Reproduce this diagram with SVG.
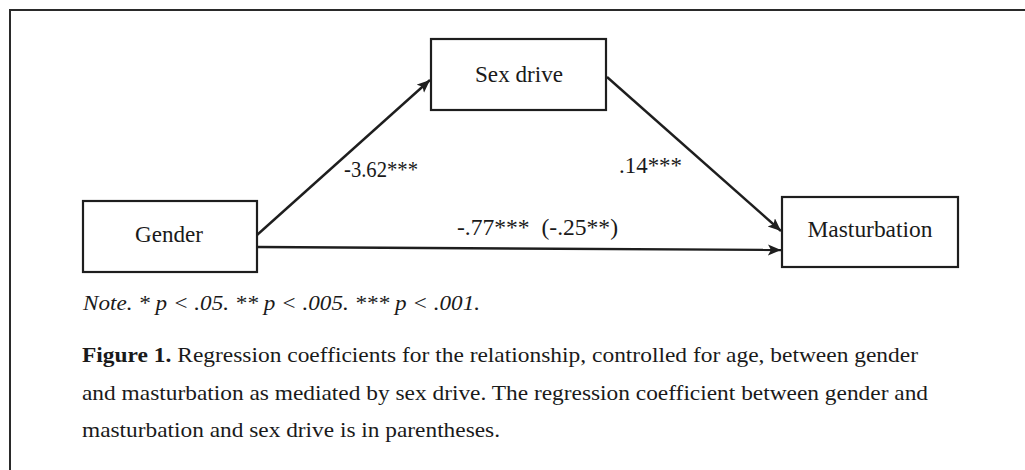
<svg xmlns="http://www.w3.org/2000/svg" width="1025" height="470" viewBox="0 0 1025 470">
  <style>
    .box { fill: #ffffff; stroke: #1e1e1e; stroke-width: 2.2; }
    .lbl { font-family: "Liberation Serif", "Times New Roman", serif; font-size: 23px; fill: #1a1a1a; }
    .edge { stroke: #1e1e1e; stroke-width: 2.4; fill: none; }
    .cap { font-family: "Liberation Serif", "Times New Roman", serif; font-size: 22px; fill: #1a1a1a; }
    .frame { stroke: #2a2a2a; stroke-width: 2; fill: none; }
  </style>
  <defs>
    <marker id="arr" markerUnits="userSpaceOnUse" markerWidth="14" markerHeight="12" refX="13" refY="5.5" orient="auto">
      <path d="M0,0 L13,5.5 L0,11 L3,5.5 z" fill="#1e1e1e"/>
    </marker>
  </defs>
  <rect width="1025" height="470" fill="#ffffff"/>
  <g id="frame">
    <line class="frame" x1="9" y1="10" x2="1025" y2="10"/>
    <line class="frame" x1="10" y1="10" x2="10" y2="470"/>
  </g>
  <g id="connectors">
    <line class="edge" x1="257" y1="235" x2="430" y2="80" marker-end="url(#arr)"/>
    <line class="edge" x1="607" y1="77" x2="781" y2="231" marker-end="url(#arr)"/>
    <line class="edge" x1="257" y1="247" x2="781" y2="250" marker-end="url(#arr)"/>
    <text class="lbl" x="344" y="177" textLength="74" lengthAdjust="spacingAndGlyphs">-3.62***</text>
    <text class="lbl" x="619" y="173" textLength="63" lengthAdjust="spacingAndGlyphs">.14***</text>
    <text class="lbl" x="457" y="235" textLength="161" lengthAdjust="spacingAndGlyphs" xml:space="preserve">-.77***  (-.25**)</text>
  </g>
  <g id="sexdrive">
    <rect class="box" x="431" y="39" width="175" height="71"/>
    <text class="lbl" x="519" y="82" text-anchor="middle" textLength="88" lengthAdjust="spacingAndGlyphs">Sex drive</text>
  </g>
  <g id="gender">
    <rect class="box" x="83" y="201" width="174" height="71"/>
    <text class="lbl" x="169" y="242" text-anchor="middle" textLength="68" lengthAdjust="spacingAndGlyphs">Gender</text>
  </g>
  <g id="masturbation">
    <rect class="box" x="782" y="197" width="176" height="70"/>
    <text class="lbl" x="870" y="237" text-anchor="middle" textLength="125" lengthAdjust="spacingAndGlyphs">Masturbation</text>
  </g>
  <g id="caption">
    <text class="cap" x="83" y="310" font-style="italic" textLength="397" lengthAdjust="spacingAndGlyphs">Note. * p &lt; .05. ** p &lt; .005. *** p &lt; .001.</text>
    <text class="cap" x="82" y="362" textLength="836" lengthAdjust="spacingAndGlyphs"><tspan font-weight="bold">Figure 1.</tspan> Regression coefficients for the relationship, controlled for age, between gender</text>
    <text class="cap" x="82" y="400" textLength="846" lengthAdjust="spacingAndGlyphs">and masturbation as mediated by sex drive. The regression coefficient between gender and</text>
    <text class="cap" x="82" y="437" textLength="418" lengthAdjust="spacingAndGlyphs">masturbation and sex drive is in parentheses.</text>
  </g>
</svg>
